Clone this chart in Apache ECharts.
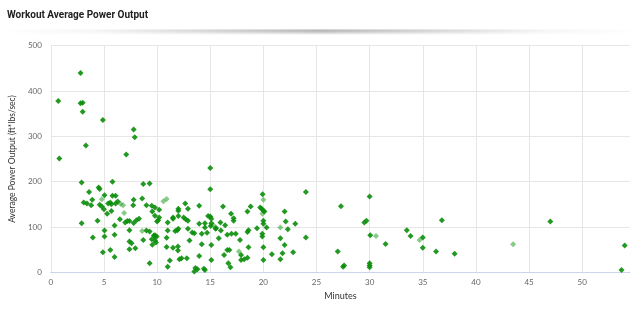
<!DOCTYPE html>
<html>
<head>
<meta charset="utf-8">
<script src="https://cdn.jsdelivr.net/npm/echarts@6/dist/echarts.min.js"></script>
<style>
html,body{margin:0;padding:0;background:#fff;}
#chart{width:640px;height:309px;}
</style>
</head>
<body>
<div id="chart"></div>
<script>
const chartTitle = 'Workout Average Power Output';
const xAxisTitle = 'Minutes';
const yAxisTitle = 'Average Power Output (ft*lbs/sec)';

// [minutes, average power] — darker markers
const darkPoints = [
  [0.7,378],[0.8,251],[2.8,440],[2.8,373],[3.0,374],[3.0,354],[3.3,280],[4.9,336],[7.1,260],[7.8,315],[7.9,298],
  [2.9,198],[5.8,200],[3.6,177],[4.5,187],[4.6,184],[3.1,154],[3.4,152],[3.8,148],[3.9,160],[5.05,170],
  [4.6,149],[4.8,145],[5.0,139],[5.4,152],[5.6,154],[5.8,169],[6.1,169],[5.7,150],[6.1,152],[5.3,129],[5.7,135],
  [6.3,156],[6.5,117],[7.0,110],[7.2,113],[7.4,113],[7.8,160],[7.75,148],[7.8,109],[8.05,115],[8.3,118],
  [8.6,163],[9.0,148],[8.7,195],[9.3,196],[9.55,134],
  [2.9,108],[4.4,114],[5.05,92],[5.05,79],[6.0,103],[6.0,83],[3.95,77],[4.9,44],[5.6,49],[6.0,34],
  [7.4,93],[7.4,68],[7.6,64],[7.4,51],[7.95,53],[9.0,92],[9.3,90],[9.7,81],[8.7,71],[9.3,20],[9.55,61],[9.5,73],
  [9.8,79],[9.8,70],[9.9,66],
  [15.0,230],[15.0,183],[9.8,143],[9.5,147],[10.2,138],[9.8,125],[10.1,115],[10.0,112],[10.2,121],
  [9.8,82],[9.96,79],[11.0,110],[11.0,92],[10.9,76],[10.9,56],[11.0,12.5],[11.2,26],[11.5,121],[11.5,118],
  [11.5,54],[11.9,93],[11.7,91],[12.0,96],[11.96,57],[11.96,48],[12.0,140],[12.0,136],[12.0,124],[12.1,29],
  [12.3,31],[12.65,152],[12.8,31],[12.9,140],[12.5,121],[12.7,117],[12.9,114],[12.9,96],[13.05,70],[13.3,88],
  [13.5,86],[13.6,9.6],[13.8,6.6],[13.5,1.5],[13.96,107],[13.96,147],[13.96,36],[14.4,8],[14.5,5],[14.5,108],
  [14.5,99],[14.2,85],[14.2,62],[14.7,87],[14.8,124],[15.0,123],[15.1,118],[15.1,108],[15.05,102],[15.5,96],
  [15.55,98],[15.96,110],[16.2,145],[16.0,92],[15.8,75],[15.1,60],[15.1,27],[16.4,104],[16.6,83],[16.6,49],
  [16.8,49],[16.3,38],[16.96,129],[17.2,119],[17.2,114],[17.0,85],[17.4,85],[16.7,20],[16.9,11],[17.9,38],
  [17.9,27],[18.2,29],[18.5,32],[17.8,71],[18.5,89],[18.6,93],[18.5,134],[18.8,145],[18.6,55],
  [19.93,172],[19.7,143],[19.84,140],[20.0,136],[20.1,134],[20.0,114],[20.0,107],[20.3,99],[19.4,97],
  [19.9,85],[19.9,79],[20.0,55],[20.0,27],[20.8,40],[21.6,75],[21.6,29],[22.0,134],[22.1,112],[22.3,95],
  [22.0,60],[21.8,42],[22.8,44],[23.0,107],[24.0,177],[24.0,77],[27.3,146],[27.0,46],[27.6,15],[27.5,12.5],
  [29.5,110],[29.7,114],[30.0,167],[30.06,82],[31.5,62.5],[30.0,20],[30.0,15],[30.0,11],[33.5,93],[33.85,80],
  [35.0,77],[35.0,54],[36.25,46],[36.8,115],[38.0,41],[47.0,112],[54.0,59],[53.7,5]
];

// [minutes, average power] — paler markers
const lightPoints = [
  [4.8,161],[6.55,151],[6.8,148],[6.9,131],[8.6,91],[10.6,157],[10.9,162],[15.3,104],[17.7,46],
  [20.0,160],[19.9,129],[21.6,99],[30.6,80],[34.7,71],[43.5,62]
];

const xMin = 0, xMax = 54.5, xStep = 5;
const yMin = 0, yMax = 500, yStep = 100;

const chart = echarts.init(document.getElementById('chart'), null, {renderer:'canvas'});
const labelFont = 'Lato, "Liberation Sans", sans-serif';

chart.setOption({
  animation: false,
  backgroundColor: '#ffffff',
  title: {
    text: chartTitle,
    left: 2, top: 5,
    textStyle: {fontFamily: 'Roboto, "Liberation Sans", sans-serif', fontSize: 10, fontWeight: 'bold', color: '#222'}
  },
  graphic: [
    {type:'rect', z:-1, shape:{x:0,y:29,width:640,height:6},
     style:{fill:new echarts.graphic.LinearGradient(0,0,1,0,[
       {offset:0,color:'rgba(0,0,0,0)'},{offset:0.15,color:'rgba(0,0,0,0.04)'},
       {offset:0.5,color:'rgba(0,0,0,0.28)'},{offset:0.85,color:'rgba(0,0,0,0.04)'},{offset:1,color:'rgba(0,0,0,0)'}])}},
    {type:'rect', z:0, shape:{x:0,y:29,width:640,height:6},
     style:{fill:new echarts.graphic.LinearGradient(0,0,0,1,[
       {offset:0,color:'rgba(255,255,255,0.6)'},{offset:0.25,color:'rgba(255,255,255,0)'},
       {offset:0.45,color:'rgba(255,255,255,0.1)'},{offset:1,color:'rgba(255,255,255,1)'}])}}
  ],
  grid: {left: 48.5, right: 10, top: 45.7, bottom: 36.7, containLabel: false},
  xAxis: {
    type: 'value', min: xMin, max: xMax, interval: xStep,
    name: xAxisTitle, nameLocation: 'middle', nameGap: 17,
    nameTextStyle: {fontFamily: labelFont, fontSize: 9, color: '#333'},
    axisLine: {show: true, lineStyle: {color: '#ccd6eb', width: 1}},
    axisTick: {show: false},
    axisLabel: {fontFamily: labelFont, fontSize: 8, color: '#666', margin: 6, showMaxLabel: false,
      formatter: v => (v % 5 === 0 ? String(v) : '')},
    splitLine: {show: true, showMaxLine: false, lineStyle: {color: '#e6e6e6', width: 1}}
  },
  yAxis: {
    type: 'value', min: yMin, max: yMax, interval: yStep,
    name: yAxisTitle, nameLocation: 'middle', nameGap: 29,
    nameTextStyle: {fontFamily: labelFont, fontSize: 8.5, color: '#333'},
    axisLine: {show: false}, axisTick: {show: false},
    axisLabel: {fontFamily: labelFont, fontSize: 8, color: '#666', margin: 9},
    splitLine: {show: true, lineStyle: {color: '#e6e6e6', width: 1}}
  },
  series: [
    {type: 'scatter', name: 'light', data: lightPoints, symbol: 'diamond', symbolSize: 6,
     itemStyle: {color: '#119611', opacity: 0.5}},
    {type: 'scatter', name: 'dark', data: darkPoints, symbol: 'diamond', symbolSize: 6,
     itemStyle: {color: '#0b8e0b', opacity: 0.9}}
  ]
});
</script>
</body>
</html>
